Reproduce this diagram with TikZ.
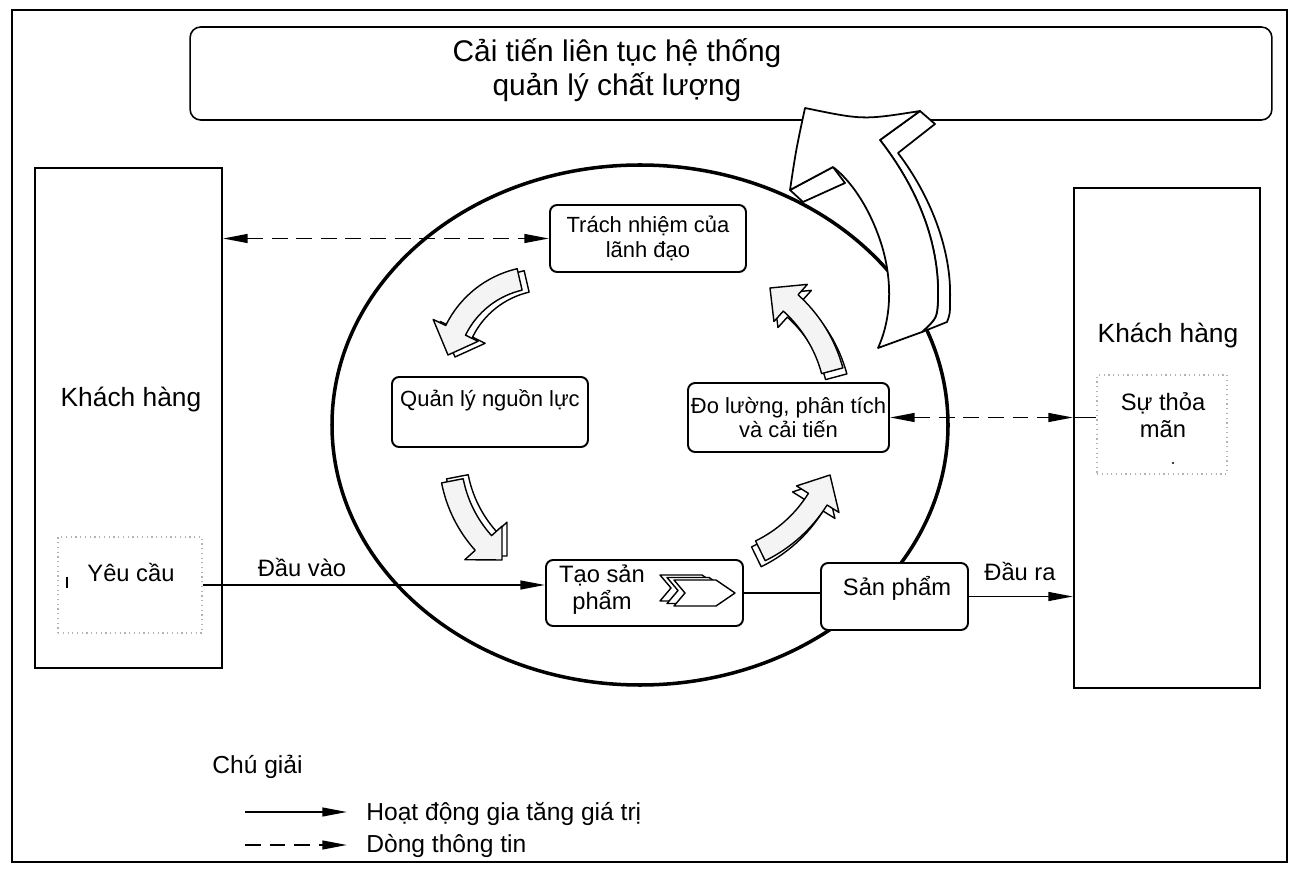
\documentclass[tikz,border=0pt]{standalone}
\usepackage{fontspec}
\setmainfont{Liberation Sans}
\usetikzlibrary{arrows.meta}

% curved 3d arrow: centre, radius, tail angle, head angle, tip, side shift
\newcommand{\ribbonarrow}[6]{%
  \pgfmathsetmacro\ribro{#2+\shaftw}%
  \pgfmathsetmacro\ribri{#2-\shaftw}%
  \pgfmathsetmacro\ribho{#2+\headw}%
  \pgfmathsetmacro\ribhi{#2-\headw}%
  \filldraw[ribbonside, shift={#1}, shift={#6}] (#3:\ribro) arc[start angle=#3, end angle=#4, radius=\ribro] -- (#4:\ribho) -- #5 -- (#4:\ribhi) -- (#4:\ribri) arc[start angle=#4, end angle=#3, radius=\ribri] -- cycle;
  \filldraw[ribbonface, shift={#1}] (#3:\ribro) arc[start angle=#3, end angle=#4, radius=\ribro] -- (#4:\ribho) -- #5 -- (#4:\ribhi) -- (#4:\ribri) arc[start angle=#4, end angle=#3, radius=\ribri] -- cycle;
}

\begin{document}
\begin{tikzpicture}[x=0.02cm, y=-0.02cm,
  frame/.style={line width=1.1pt},
  procbox/.style={draw, line width=1.1pt, rounded corners=4pt, fill=white, inner sep=0pt},
  custbox/.style={draw, line width=1.1pt, fill=white, inner sep=0pt},
  dotbox/.style={draw=gray!60, dotted, line width=0.7pt, inner sep=0pt},
  titletext/.style={font=\fontsize{17}{19.5}\selectfont, align=center, inner sep=0pt},
  custtext/.style={font=\fontsize{15}{18}\selectfont, inner sep=0pt},
  boxtext/.style={font=\fontsize{12.5}{14.2}\selectfont, align=center, inner sep=0pt},
  labeltext/.style={font=\fontsize{13.5}{15.5}\selectfont, align=center, inner sep=0pt},
  legendtext/.style={font=\fontsize{14}{16}\selectfont, anchor=west, inner sep=0pt},
  valueflow/.style={line width=1pt, -{Triangle[length=14pt,width=5pt]}},
  infoflow/.style={line width=1pt, dash pattern=on 9pt off 5pt, -{Triangle[length=14pt,width=5pt]}},
  infoboth/.style={infoflow, {Triangle[length=14pt,width=5pt]}-{Triangle[length=14pt,width=5pt]}},
  bigarrow/.style={draw, fill=white, line width=1pt, line join=round},
  ribbonface/.style={draw, fill=gray!9, line width=0.8pt, line join=round},
  ribbonside/.style={draw, fill=white, line width=0.8pt, line join=round},
  chevron/.style={draw, fill=white, line width=0.8pt, line join=round}
]

\useasboundingbox (0,0) rectangle (1292,878);

% DRAW THE FRAME
\draw[frame] (12,10) rectangle (1287,862);

% DRAW THE IMPROVEMENT BOX
\node[procbox, rounded corners=6pt, line width=0.9pt, minimum width=21.64cm, minimum height=1.86cm] (improve) at (731,73.5) {};
\node[titletext] (improvetext) at (617,70) {Cải tiến liên tục hệ thống\\quản lý chất lượng};

% DRAW THE ELLIPSE
\draw[line width=2pt] (640,425) ellipse [x radius=308, y radius=260];

% DRAW THE BIG ARROW
\filldraw[bigarrow] (920,111) -- (935,124) -- (898,153) .. controls (930,195) and (952,250) .. (950,300) .. controls (950,314) .. (947,322) -- (922,332) .. controls (937,318) .. (938,300) .. controls (940,240) and (915,185) .. (880,140) -- cycle;
\filldraw[bigarrow] (790,190) -- (803,202) -- (845,183) -- (833,167) -- cycle;
\filldraw[bigarrow] (805,108) .. controls (863,120) .. (920,111) -- (880,140) .. controls (915,185) and (940,240) .. (938,300) .. controls (937,318) .. (922,332) -- (878,348) .. controls (893,315) and (892,275) .. (880,240) .. controls (868,205) and (850,180) .. (833,167) -- (790,190) .. controls (796,150) .. (805,108) -- cycle;

% DRAW THE CYCLE ARROWS
\def\shaftw{11}
\def\headw{25}
\ribbonarrow{(541,372)}{95}{-103}{-154}{(-93,-17)}{(7,2)}
\ribbonarrow{(580,456)}{130}{169}{138}{(-78,104)}{(5,-4)}
\ribbonarrow{(699,425)}{140}{64}{32}{(131,50)}{(-4,6)}
\ribbonarrow{(697,407)}{140}{-15}{-48}{(73,-119)}{(4,6)}

% DRAW THE PROCESSES
\node[procbox, minimum width=3.92cm, minimum height=1.34cm, boxtext] (lead) at (648,238.5) {Trách nhiệm của\\lãnh đạo};
\node[procbox, minimum width=3.92cm, minimum height=1.40cm] (resource) at (490,412) {};
\node[boxtext] (resourcetext) at (490,400) {Quản lý nguồn lực};
\node[procbox, minimum width=4.02cm, minimum height=1.38cm, boxtext] (measure) at (788.5,417.5) {Đo lường, phân tích\\và cải tiến};
\node[procbox, minimum width=3.94cm, minimum height=1.32cm] (realize) at (644.5,593) {};
\node[labeltext] (realizetext) at (602,590) {Tạo sản\\phẩm};
\foreach \dx/\dy in {-14/-5, -7/-2.5, 0/0}
  \filldraw[chevron, shift={(704+\dx,593+\dy)}] (-30,-13) -- (12,-13) -- (31,0) -- (12,13) -- (-30,13) -- (-19,0) -- cycle;
\node[procbox, minimum width=2.94cm, minimum height=1.34cm] (product) at (894.5,596.5) {};
\node[labeltext] (producttext) at (897,588) {Sản phẩm};

% DRAW THE CUSTOMERS
\node[custbox, minimum width=3.74cm, minimum height=10cm] (custin) at (128.5,418) {};
\node[custtext] (custintext) at (131,400) {Khách hàng};
\node[dotbox, minimum width=2.88cm, minimum height=1.92cm] (require) at (130,585) {};
\node[labeltext] (requiretext) at (131,573) {Yêu cầu};
\draw[line width=0.6pt] (67,577) -- (67,588);

\node[custbox, minimum width=3.72cm, minimum height=10cm] (custout) at (1167,438) {};
\node[custtext] (custouttext) at (1168,336) {Khách hàng};
\node[dotbox, minimum width=2.6cm, minimum height=1.98cm] (satisfy) at (1162,424.5) {};
\node[labeltext] (satisfytext) at (1163,415) {Sự thỏa\\mãn};
\fill (1173,463) circle (1.2);

% DRAW THE FLOWS
\draw[valueflow] (require.east) -- (require.east -| realize.west);
\node[labeltext] (inputtext) at (302,568) {Đầu vào};
\draw[line width=1pt] (realize.east) -- (realize.east -| product.west);
\draw[valueflow] (product.east) -- (product.east -| custout.west);
\node[labeltext] (outputtext) at (1020,572) {Đầu ra};
\draw[infoboth] (lead.west -| custin.east) -- (lead.west);
\draw[infoboth] (measure.east) -- (measure.east -| custout.west);
\draw[line width=1pt] (measure.east -| custout.west) -- (measure.east -| satisfy.west);

% DRAW THE LEGEND
\node[legendtext] (legendtitle) at (212,767) {Chú giải};
\coordinate (valuefrom) at (245,812);
\coordinate (valueto) at (347,812);
\draw[valueflow] (valuefrom) -- (valueto);
\node[legendtext] (valuetext) at (366,814) {Hoạt động gia tăng giá trị};
\coordinate (infofrom) at (245,845);
\coordinate (infoto) at (347,845);
\draw[infoflow] (infofrom) -- (infoto);
\node[legendtext] (infotext) at (366,846) {Dòng thông tin};

\end{tikzpicture}
\end{document}
